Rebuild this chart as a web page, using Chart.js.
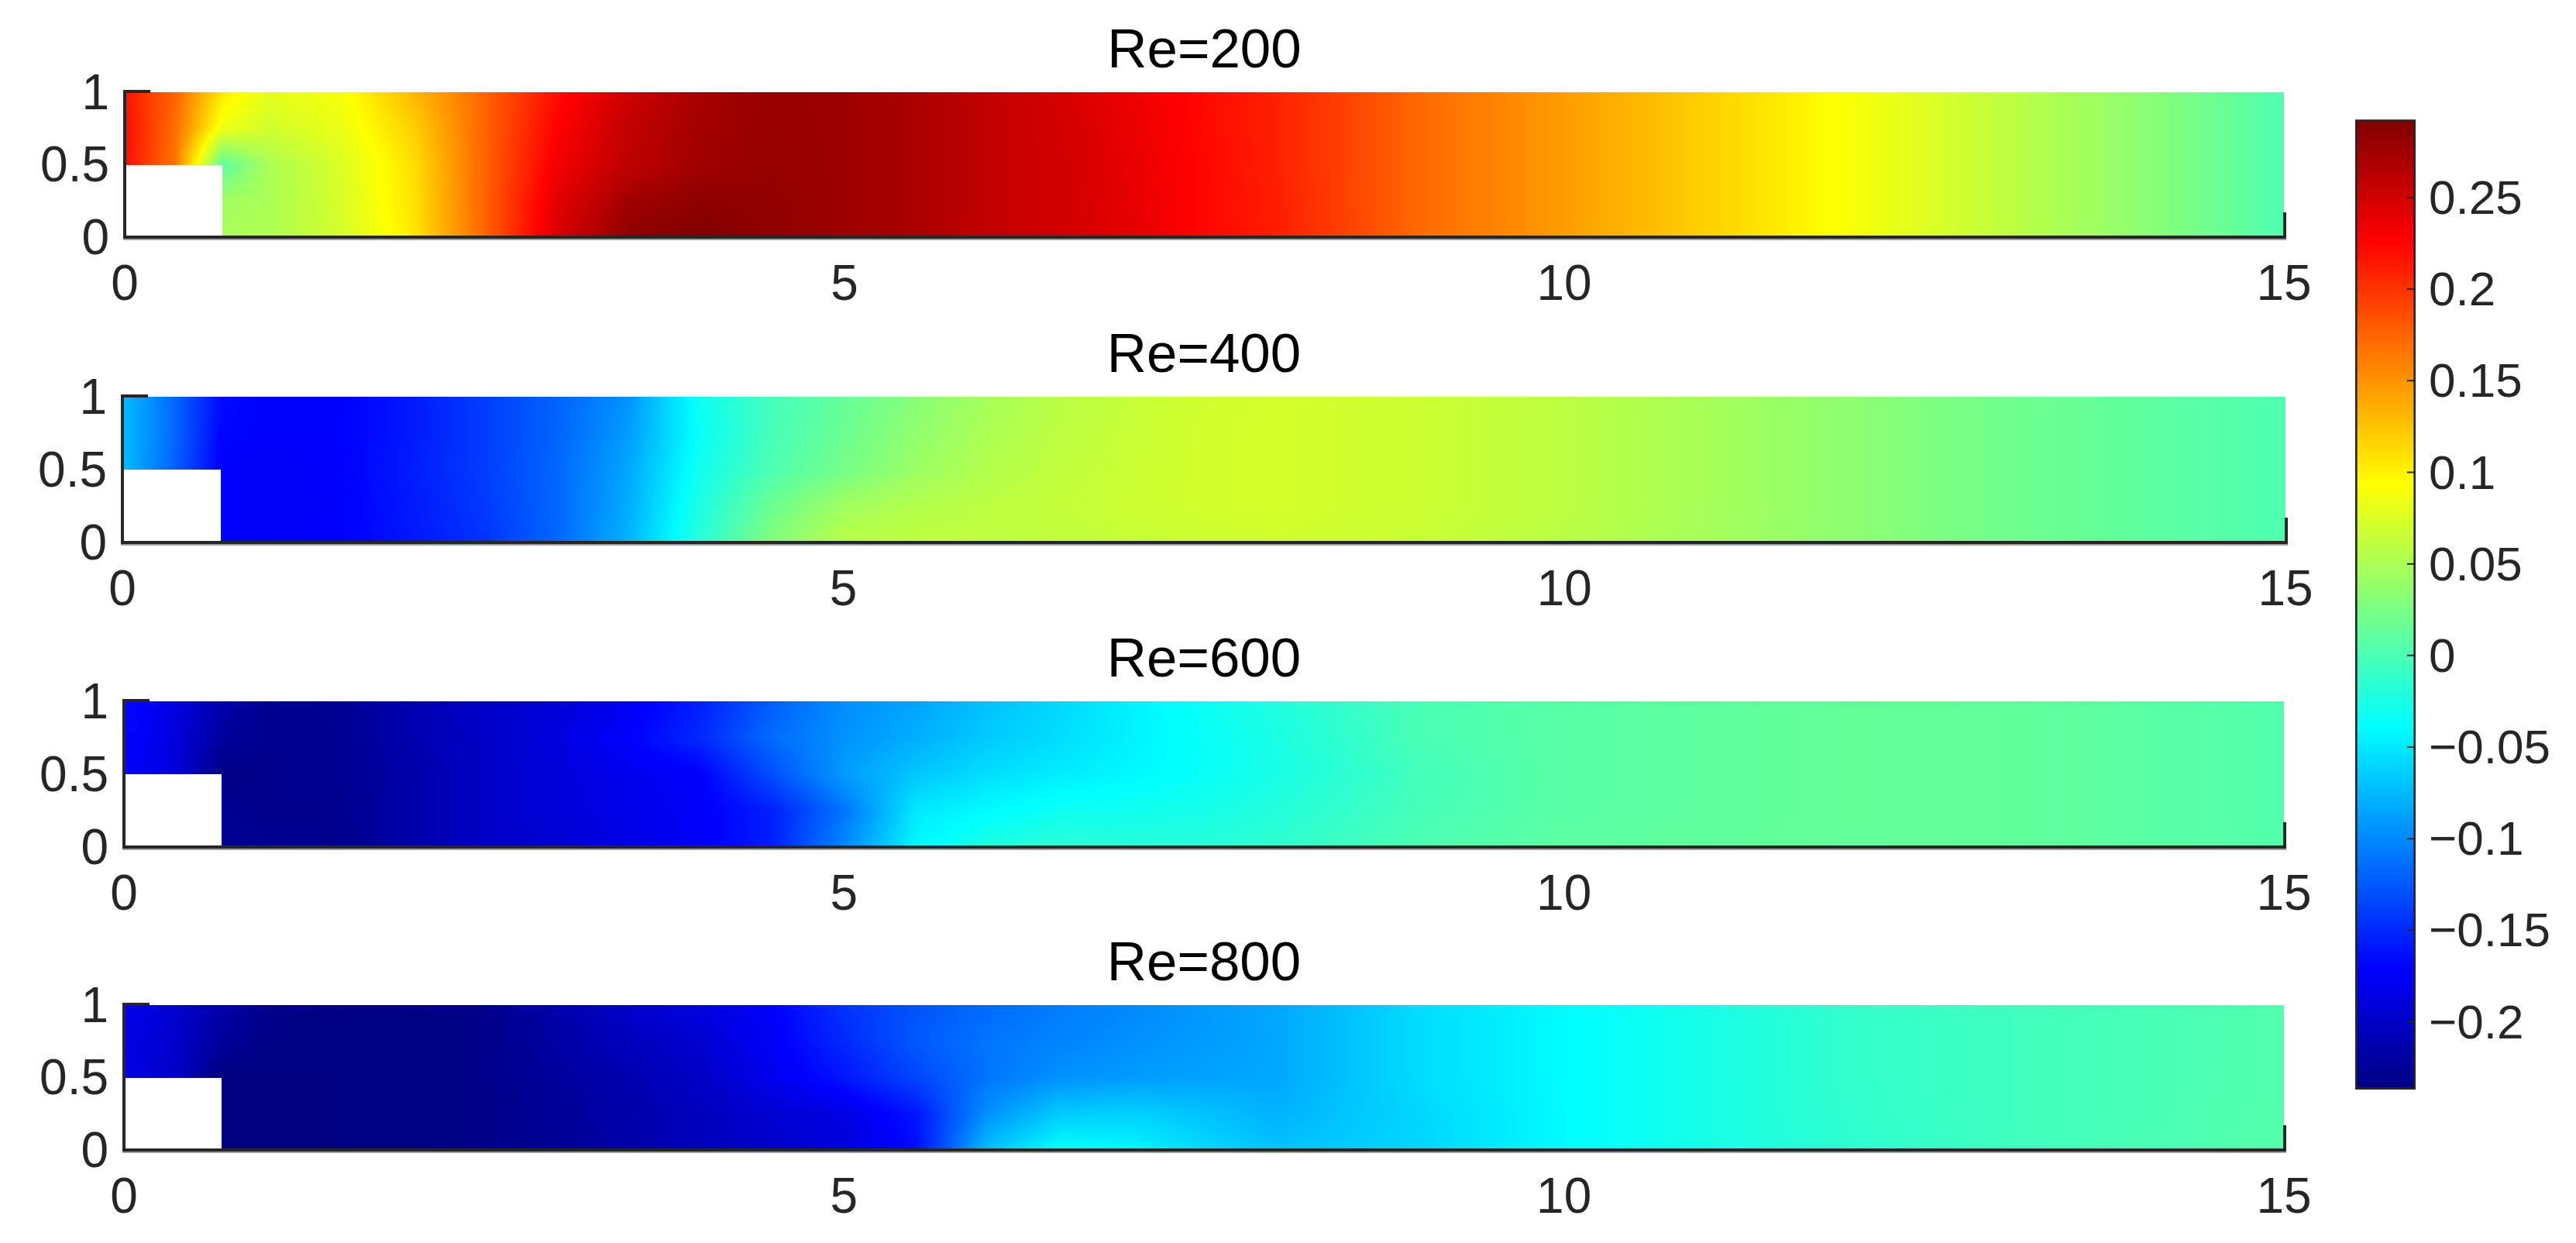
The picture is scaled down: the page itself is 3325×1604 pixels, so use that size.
<!DOCTYPE html>
<html>
<head>
<meta charset="utf-8">
<title>Re panels</title>
<script src="https://cdn.jsdelivr.net/npm/chart.js@4"></script>
<style>
  html, body { margin: 0; padding: 0; background: #fff; }
  #page { position: relative; width: 3325px; height: 1604px; overflow: hidden; }
  canvas { position: absolute; }
</style>
</head>
<body>
<div id="page"></div>
<script>
// grid the field was read on, x along the channel, y across it
const xGrid = [0, 0.35, 0.68, 1, 1.5, 2, 2.5, 3, 3.5, 4, 4.5, 5, 5.5, 6, 6.5, 7, 7.5, 8, 9, 10, 11, 12, 13, 14, 15];
const yGrid = [0, 0.25, 0.5, 0.75, 1];
const n = null; // inside the step

// rows go from y=0 up to y=1
const re200 = [
  [n, n, .05, .052, .072, .105, .175, .245, .285, .292, .284, .277, .27, .258, .25, .24, .223, .212, .172, .145, .118, .09, .063, .035, .002],
  [n, n, .045, .05, .073, .108, .175, .24, .275, .285, .283, .277, .27, .258, .25, .239, .223, .211, .172, .145, .118, .09, .063, .035, .002],
  [.22, .165, .01, .05, .075, .11, .175, .232, .26, .275, .281, .277, .27, .258, .25, .238, .223, .21, .172, .145, .118, .09, .063, .035, .002],
  [.22, .17, .085, .07, .083, .118, .175, .226, .258, .274, .28, .277, .27, .258, .249, .237, .222, .21, .172, .145, .118, .09, .063, .035, .002],
  [.215, .175, .105, .08, .09, .13, .175, .22, .252, .272, .279, .277, .27, .258, .248, .235, .222, .21, .172, .145, .118, .09, .063, .035, .002]
];
const re400 = [
  [n, n, -.172, -.174, -.172, -.16, -.145, -.118, -.078, -.018, .03, .058, .061, .061, .062, .065, .068, .07, .066, .058, .047, .035, .021, .011, .002],
  [n, n, -.172, -.175, -.173, -.158, -.142, -.118, -.082, -.024, .018, .045, .055, .06, .064, .068, .071, .072, .068, .06, .048, .035, .021, .011, .002],
  [-.072, -.118, -.172, -.175, -.172, -.157, -.14, -.118, -.085, -.03, .002, .023, .042, .054, .062, .067, .071, .072, .068, .06, .048, .035, .021, .011, .002],
  [-.072, -.115, -.168, -.172, -.172, -.158, -.14, -.12, -.09, -.035, -.002, .018, .037, .051, .06, .066, .071, .072, .068, .06, .048, .035, .021, .011, .002],
  [-.072, -.115, -.165, -.172, -.172, -.158, -.14, -.12, -.095, -.032, -.003, .014, .032, .048, .058, .065, .07, .072, .068, .06, .048, .035, .021, .011, .002]
];
const re600 = [
  [n, n, -.225, -.228, -.23, -.215, -.2, -.195, -.185, -.175, -.155, -.1, -.042, -.024, -.016, -.018, -.018, -.014, .002, .01, .012, .014, .013, .009, .005],
  [n, n, -.228, -.23, -.23, -.215, -.2, -.19, -.182, -.175, -.155, -.11, -.05, -.04, -.032, -.03, -.027, -.02, -.002, .008, .011, .014, .013, .009, .004],
  [-.172, -.19, -.235, -.23, -.228, -.215, -.2, -.19, -.18, -.172, -.13, -.09, -.068, -.055, -.048, -.042, -.035, -.026, -.004, .008, .011, .014, .013, .009, .004],
  [-.168, -.188, -.22, -.23, -.228, -.212, -.2, -.188, -.172, -.15, -.115, -.095, -.08, -.066, -.056, -.045, -.035, -.025, 0, .008, .011, .014, .013, .009, .004],
  [-.165, -.185, -.215, -.228, -.228, -.212, -.2, -.192, -.178, -.155, -.122, -.097, -.085, -.07, -.058, -.045, -.033, -.022, 0, .008, .011, .014, .013, .009, .004]
];
const re800 = [
  [n, n, -.236, -.236, -.236, -.235, -.232, -.226, -.216, -.206, -.198, -.19, -.165, -.07, -.036, -.042, -.058, -.07, -.06, -.04, -.026, -.015, -.006, 0, .006],
  [n, n, -.236, -.236, -.236, -.235, -.232, -.225, -.215, -.205, -.195, -.185, -.16, -.095, -.066, -.062, -.07, -.078, -.059, -.04, -.026, -.013, -.006, -.001, .005],
  [-.185, -.2, -.237, -.236, -.236, -.235, -.232, -.222, -.212, -.2, -.18, -.16, -.135, -.11, -.095, -.09, -.086, -.084, -.056, -.04, -.026, -.012, -.006, -.001, .004],
  [-.182, -.197, -.222, -.233, -.236, -.235, -.232, -.218, -.205, -.195, -.175, -.15, -.125, -.11, -.102, -.096, -.09, -.084, -.056, -.04, -.026, -.012, -.006, -.001, .004],
  [-.18, -.195, -.217, -.232, -.236, -.235, -.232, -.215, -.197, -.186, -.172, -.145, -.128, -.116, -.106, -.1, -.092, -.084, -.056, -.04, -.026, -.012, -.006, -.001, .004]
];

const panelTitles = ['Re=200', 'Re=400', 'Re=600', 'Re=800'];
const panelFields = [re200, re400, re600, re800];
const xTicks = [0, 5, 10, 15];
const yTicks = [0, 0.5, 1];

const colorMin = -0.237;
const colorMax = 0.2926;
const colorTicks = [-0.2, -0.15, -0.1, -0.05, 0, 0.05, 0.1, 0.15, 0.2, 0.25];

// plot boxes in page pixels
const panelBoxes = [
  { left: 161, right: 2948, top: 119, bottom: 306 },
  { left: 158, right: 2950, top: 512, bottom: 700 },
  { left: 160, right: 2948, top: 905, bottom: 1093 },
  { left: 160, right: 2948, top: 1297, bottom: 1484 }
];
const axisColor = '#262626';
const fontFamily = '"Liberation Sans", Arial, sans-serif';

Chart.defaults.font.family = fontFamily;
Chart.defaults.color = axisColor;

// matlab jet, t from 0 to 1
function jet(t) {
  t = Math.min(1, Math.max(0, t));
  const ramp = (c) => Math.min(1, Math.max(0, 1.5 - Math.abs(4 * t - c)));
  return [ramp(3) * 255, ramp(2) * 255, ramp(1) * 255];
}

function colorOf(v) {
  return jet((v - colorMin) / (colorMax - colorMin));
}

function findCell(grid, value) {
  for (let i = 0; i < grid.length - 2; i++) {
    if (value < grid[i + 1]) return i;
  }
  return grid.length - 2;
}

// paints the field behind the axes, smooth shading between the read values
const fieldShade = {
  id: 'fieldShade',
  beforeDraw(chart) {
    const { left, right, top, bottom } = chart.chartArea;
    const rows = chart.data.datasets[0].rows;
    const xScale = chart.scales.x;
    const yScale = chart.scales.y;
    const w = Math.round(right - left);
    const h = Math.round(bottom - top);
    const off = document.createElement('canvas');
    off.width = w;
    off.height = h;
    const offCtx = off.getContext('2d');
    const img = offCtx.createImageData(w, h);

    const columns = [];
    for (let px = 0; px < w; px++) {
      const x = xScale.getValueForPixel(left + px + 0.5);
      const i = findCell(xGrid, x);
      columns.push({ i, tx: (x - xGrid[i]) / (xGrid[i + 1] - xGrid[i]) });
    }

    for (let py = 0; py < h; py++) {
      const y = yScale.getValueForPixel(top + py + 0.5);
      const j = findCell(yGrid, y);
      const ty = (y - yGrid[j]) / (yGrid[j + 1] - yGrid[j]);
      for (let px = 0; px < w; px++) {
        const { i, tx } = columns[px];
        const a = rows[j][i], b = rows[j][i + 1], c = rows[j + 1][i], d = rows[j + 1][i + 1];
        if (a === null || b === null || c === null || d === null) continue;
        const v = (a * (1 - tx) + b * tx) * (1 - ty) + (c * (1 - tx) + d * tx) * ty;
        const rgb = colorOf(v);
        const k = (py * w + px) * 4;
        img.data[k] = rgb[0];
        img.data[k + 1] = rgb[1];
        img.data[k + 2] = rgb[2];
        img.data[k + 3] = 255;
      }
    }
    offCtx.putImageData(img, 0, 0);
    chart.ctx.drawImage(off, left, top);
  },
  // only the two tick marks that stick out of the field are visible
  afterDraw(chart) {
    const ctx = chart.ctx;
    const xScale = chart.scales.x;
    const yScale = chart.scales.y;
    const x0 = xScale.getPixelForValue(0);
    const x15 = xScale.getPixelForValue(15);
    const y0 = yScale.getPixelForValue(0);
    const y1 = yScale.getPixelForValue(1);
    ctx.save();
    ctx.strokeStyle = axisColor;
    ctx.lineWidth = 4;
    ctx.beginPath();
    ctx.moveTo(x0 - 2, y1 - 1);
    ctx.lineTo(x0 + 33, y1 - 1);
    ctx.moveTo(x15 + 1, y0 + 2);
    ctx.lineTo(x15 + 1, y0 - 32);
    ctx.stroke();
    ctx.strokeStyle = 'rgba(120,120,120,0.7)';
    ctx.lineWidth = 2;
    ctx.beginPath();
    ctx.moveTo(x0 - 2, y0 + 3);
    ctx.lineTo(x15 + 3, y0 + 3);
    ctx.stroke();
    ctx.restore();
  }
};

function addCanvas(left, top, width, height) {
  const canvas = document.createElement('canvas');
  canvas.width = width;
  canvas.height = height;
  canvas.style.left = left + 'px';
  canvas.style.top = top + 'px';
  canvas.style.width = width + 'px';
  canvas.style.height = height + 'px';
  document.getElementById('page').appendChild(canvas);
  return canvas;
}

function drawPanel(index) {
  const box = panelBoxes[index];
  const headerHeight = 119;
  const footerHeight = 90;
  const canvas = addCanvas(0, box.top - headerHeight, box.right + 70, headerHeight + (box.bottom - box.top) + footerHeight);
  const points = [];
  panelFields[index].forEach((row, j) => {
    row.forEach((v, i) => {
      if (v !== null) points.push({ x: xGrid[i], y: yGrid[j], v: v });
    });
  });

  new Chart(canvas, {
    type: 'scatter',
    data: { datasets: [{ data: points, rows: panelFields[index], pointRadius: 0, showLine: false }] },
    plugins: [fieldShade],
    options: {
      responsive: false,
      animation: false,
      events: [],
      layout: { padding: { left: 0, right: 70, top: 0, bottom: 0 } },
      plugins: {
        legend: { display: false },
        tooltip: { enabled: false },
        title: {
          display: true,
          text: panelTitles[index],
          color: '#000',
          fullSize: false,
          font: { size: 71, weight: 'normal', lineHeight: 1 },
          padding: { top: 32, bottom: 16 }
        }
      },
      scales: {
        x: {
          type: 'linear',
          min: 0,
          max: 15,
          grid: { display: false, drawTicks: false },
          border: { color: axisColor, width: 4 },
          afterBuildTicks: (s) => { s.ticks = xTicks.map((v) => ({ value: v })); },
          afterFit: (s) => { s.height = footerHeight; },
          ticks: { font: { size: 64 }, padding: 25, maxRotation: 0, autoSkip: false, color: axisColor, callback: (v) => String(v) }
        },
        y: {
          type: 'linear',
          min: 0,
          max: 1,
          grid: { display: false, drawTicks: false },
          border: { color: axisColor, width: 4 },
          afterBuildTicks: (s) => { s.ticks = yTicks.map((v) => ({ value: v })); },
          afterFit: (s) => { s.width = box.left; },
          ticks: { font: { size: 64 }, padding: 20, labelOffset: 4, autoSkip: false, color: axisColor, callback: (v) => String(v) }
        }
      }
    }
  });
}

function drawColorbar() {
  const canvas = addCanvas(3000, 100, 325, 1400);
  const insideTicks = {
    id: 'insideTicks',
    afterDraw(chart) {
      const ctx = chart.ctx;
      const scale = chart.scales.y;
      const right = chart.chartArea.right;
      ctx.save();
      ctx.strokeStyle = axisColor;
      ctx.lineWidth = 2;
      ctx.beginPath();
      scale.ticks.forEach((tick) => {
        const y = scale.getPixelForValue(tick.value);
        ctx.moveTo(right - 11, y);
        ctx.lineTo(right, y);
      });
      ctx.stroke();
      ctx.restore();
    }
  };

  new Chart(canvas, {
    type: 'bar',
    data: {
      labels: ['colorbar'],
      datasets: [{
        data: [[colorMin, colorMax]],
        barPercentage: 1,
        categoryPercentage: 1,
        borderColor: axisColor,
        borderWidth: 3,
        borderSkipped: false,
        backgroundColor: (ctx) => {
          // the scale has no pixel range until the first layout is done
          if (!ctx.chart.chartArea) return '#000';
          const scale = ctx.chart.scales.y;
          const g = ctx.chart.ctx.createLinearGradient(0, scale.getPixelForValue(colorMin), 0, scale.getPixelForValue(colorMax));
          for (let s = 0; s <= 8; s++) {
            const rgb = jet(s / 8);
            g.addColorStop(s / 8, `rgb(${rgb[0]},${rgb[1]},${rgb[2]})`);
          }
          return g;
        }
      }]
    },
    plugins: [insideTicks],
    options: {
      responsive: false,
      animation: false,
      events: [],
      layout: { padding: { left: 40, right: 0, top: 54, bottom: 94 } },
      plugins: { legend: { display: false }, tooltip: { enabled: false } },
      scales: {
        x: { display: false },
        y: {
          position: 'right',
          min: colorMin,
          max: colorMax,
          grid: { display: false, drawTicks: false },
          border: { display: false },
          afterBuildTicks: (s) => { s.ticks = colorTicks.map((v) => ({ value: v })); },
          afterFit: (s) => { s.width = 207; },
          ticks: {
            font: { size: 62 },
            padding: 17,
            labelOffset: 4,
            autoSkip: false,
            color: axisColor,
            callback: (v) => (v < 0 ? '\u2212' : '') + String(Math.abs(v))
          }
        }
      }
    }
  });
}

panelTitles.forEach((title, i) => drawPanel(i));
drawColorbar();
</script>
</body>
</html>
